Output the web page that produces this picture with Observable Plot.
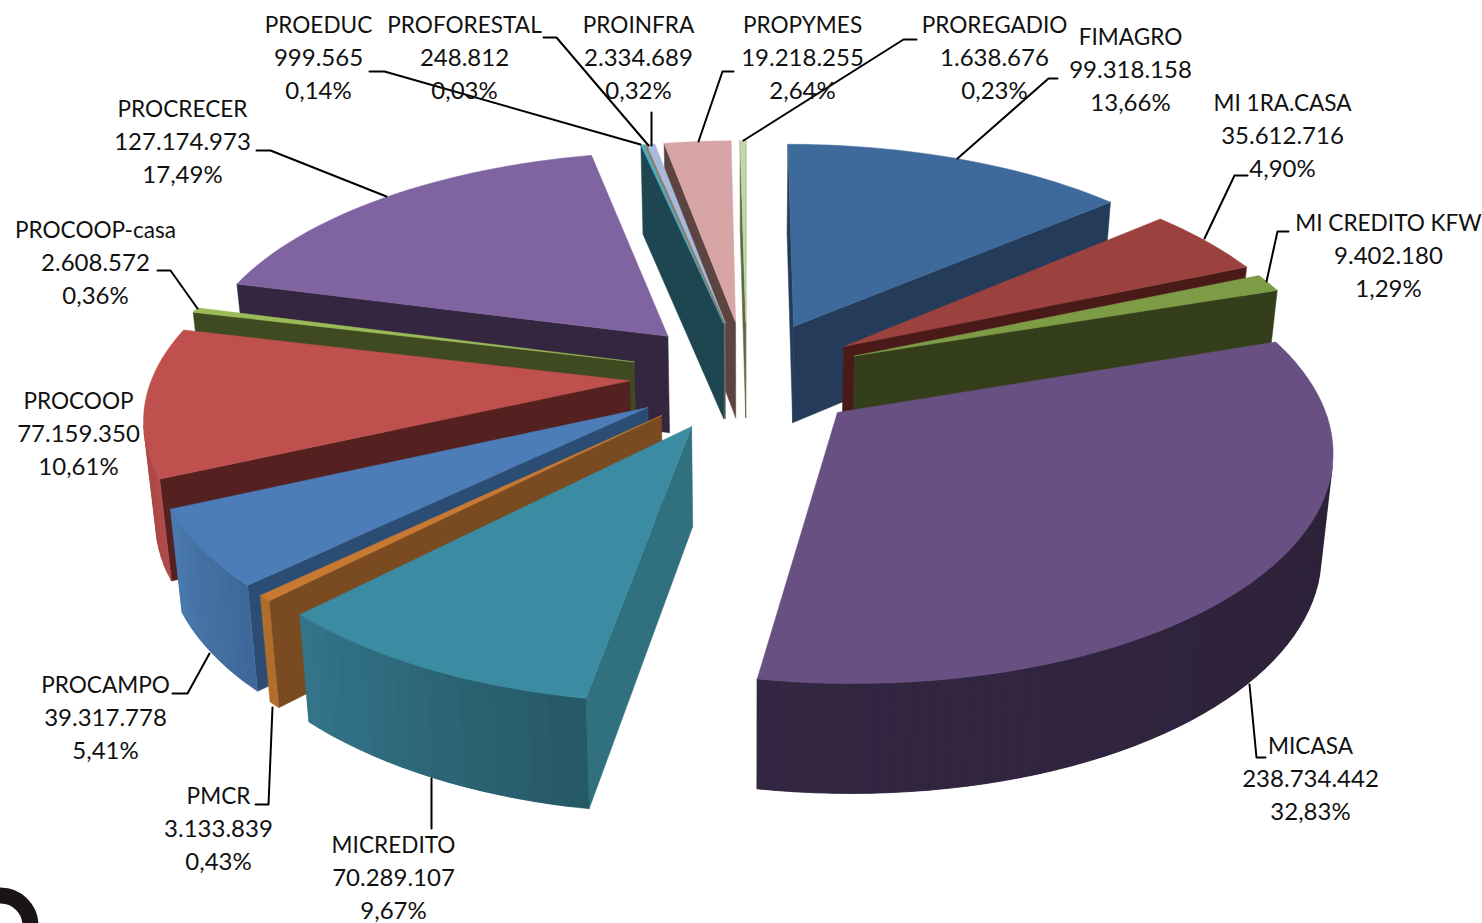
<!DOCTYPE html>
<html>
<head>
<meta charset="utf-8">
<script src="https://cdn.jsdelivr.net/npm/d3@7"></script>
<script src="https://cdn.jsdelivr.net/npm/@observablehq/plot@0.6"></script>
<style>html,body{margin:0;padding:0;background:#fff}svg{display:block}</style>
</head>
<body>
<div id="chart"></div>
<script>
// --- data, clockwise from 12 o'clock
const names = ["FIMAGRO","MI 1RA.CASA","MI CREDITO KFW","MICASA","MICREDITO","PMCR","PROCAMPO","PROCOOP","PROCOOP-casa","PROCRECER","PROEDUC","PROFORESTAL","PROINFRA","PROPYMES","PROREGADIO"];
const amounts = [99318158,35612716,9402180,238734442,70289107,3133839,39317778,77159350,2608572,127174973,999565,248812,2334689,19218255,1638676];
const amountLabels = ["99.318.158","35.612.716","9.402.180","238.734.442","70.289.107","3.133.839","39.317.778","77.159.350","2.608.572","127.174.973","999.565","248.812","2.334.689","19.218.255","1.638.676"];
const percentLabels = ["13,66%","4,90%","1,29%","32,83%","9,67%","0,43%","5,41%","10,61%","0,36%","17,49%","0,14%","0,03%","0,32%","2,64%","0,23%"];

// --- colours
const topColors  = ["#3e6a9b","#9b423f","#7d9c46","#695082","#3b8ca3","#c87a33","#4c7db8","#bf504d","#9bbb59","#8064a2","#4bacc6","#c97a30","#a8bbdc","#d7a5a5","#c3d6a5"];
const sideColors = ["#243c5a","#4a1a18","#343e1a","#2e2238","#31707f","#7a4a20","#2c4d73","#542120","#3f4a20","#352640","#1d4650","#7a4a20","#66728a","#5c4540","#5a6a40"];
const rimStart   = ["#2c4a6e","#6e2c2a","#5a7030","#2a2035","#265865","#b06e2c","#3d6798","#b04b49","#6e8a3a","#4a3a60","#2a6a7a","#a0602a","#7a88a0","#9a7070","#8a9a70"];
const rimEnd     = ["#2c4a6e","#6e2c2a","#5a7030","#332642","#33758a","#b06e2c","#4a7aae","#a04040","#6e8a3a","#4a3a60","#2a6a7a","#a0602a","#7a88a0","#9a7070","#8a9a70"];

// --- label layout: centre of each three-line label
const labelX = [1130,1282,1388,1310,393,218,105,78,95,182,318,464,638,802,994];
const labelY = [70,136,256,779,878,829,718,434,263,142,58,58,58,58,58];
const lineStep = 32.5;
// --- leader lines
const leaders = [
  [[1057,78],[1048,78],[957,158]],
  [[1247,175],[1234,175],[1204,238]],
  [[1288,231],[1277,231],[1266,281]],
  [[1265,757],[1256,757],[1249,684]],
  [[431,828],[431,778]],
  [[255,804],[268,804],[272,707]],
  [[172,693],[187,693],[209,653]],
  [],
  [[157,270],[170,270],[197,308]],
  [[256,150],[270,150],[386,196]],
  [[369,71],[384,71],[640,144]],
  [[543,37],[556,37],[648,145]],
  [[651,112],[651,145]],
  [[733,71],[722,71],[698,141]],
  [[916,39],[903,39],[743,140]]
];

// --- 3D pie projection
const view = {cx:746, cy:375, span:1557, A:477, k:0.142, ex:0.245, ez:0.251, depthA:38, depthB:60, taper:0.98};
const total = d3.sum(amounts);
function project(X, Z) {
  const s = 1 / (1 - view.k * Z);
  return {x: view.cx + view.A * X * s, y: view.cy + view.span * (s - 1), s};
}
function drop(p) {
  return {x: view.cx + (p.x - view.cx) * view.taper, y: p.y + view.depthA + view.depthB * p.s};
}
function shoelace(pts) {
  return d3.sum(pts, (p, i) => { const q = pts[(i + 1) % pts.length]; return p.x * q.y - q.x * p.y; });
}

const rows = [];
let faceId = 0;
function addFace(pts, color) {
  const id = faceId++;
  for (const p of [...pts, pts[0]]) rows.push({id, x: p.x, y: p.y, color});
}

let cum = 0;
const slices = amounts.map((v, i) => {
  const a0 = cum / total * 2 * Math.PI;
  cum += v;
  const a1 = cum / total * 2 * Math.PI;
  const mid = (a0 + a1) / 2;
  return {i, a0, a1, mid, z: -Math.cos(mid)};
});

for (const sl of slices.slice().sort((a, b) => a.z - b.z)) {
  const {i, a0, a1, mid} = sl;
  const tx = view.ex * Math.sin(mid), tz = -view.ez * Math.cos(mid);
  const tip = project(tx, tz);
  const n = Math.max(1, Math.ceil((a1 - a0) / (Math.PI / 90)));
  const arc = d3.range(n + 1).map(j => {
    const t = a0 + (a1 - a0) * j / n;
    return project(tx + Math.sin(t), tz - Math.cos(t));
  });
  const quad = (p, q) => [p, q, drop(q), drop(p)];
  const wall = (p, q, color) => { if (shoelace(quad(p, q)) < 0) addFace(quad(p, q), color); };
  wall(tip, arc[0], sideColors[i]);
  wall(arc[n], tip, sideColors[i]);
  const mix = d3.interpolateRgb(rimStart[i], rimEnd[i]);
  // each rim strip overlaps the next one, so no seam shows between them
  for (let j = 0; j < n; j++) {
    if (shoelace(quad(arc[j], arc[j + 1])) < 0) {
      const far = Math.min(n, j + 2);
      const strip = [...arc.slice(j, far + 1), ...arc.slice(j, far + 1).reverse().map(drop)];
      addFace(strip, mix((j + 0.5) / n));
    }
  }
  addFace([tip, ...arc], topColors[i]);
}

const leaderRows = leaders.flatMap((pts, i) => pts.map(([x, y]) => ({i, x, y})));
const labels = names.map((n, i) => ({
  x: labelX[i], y: labelY[i],
  name: n, amount: amountLabels[i], percent: percentLabels[i]
}));
const corner = [{x: 0, y: 925}];

const chart = Plot.plot({
  width: 1482, height: 923,
  margin: 0, marginTop: 0, marginRight: 0, marginBottom: 0, marginLeft: 0,
  x: {domain: [0, 1482], range: [0, 1482], axis: null},
  y: {domain: [0, 923], range: [0, 923], axis: null},
  color: {type: "identity"},
  style: {background: "#fff"},
  marks: [
    Plot.line(rows, {x: "x", y: "y", z: "id", fill: "color", stroke: "color", strokeWidth: 0.5}),
    Plot.line(leaderRows, {x: "x", y: "y", z: "i", stroke: "#000", strokeWidth: 2}),
    Plot.text(labels, {x: "x", y: "y", dy: -lineStep, text: "name", textAnchor: "middle", lineAnchor: "middle",
      fontFamily: "Lato", fontSize: 22.6, fill: "#111"}),
    Plot.text(labels, {x: "x", y: "y", text: "amount", textAnchor: "middle", lineAnchor: "middle",
      fontFamily: "Lato", fontSize: 24, fill: "#111"}),
    Plot.text(labels, {x: "x", y: "y", dy: lineStep, text: "percent", textAnchor: "middle", lineAnchor: "middle",
      fontFamily: "Lato", fontSize: 24, fill: "#111"}),
    Plot.dot(corner, {x: "x", y: "y", r: 30, stroke: "#1a1414", strokeWidth: 16, fill: "none"})
  ]
});
document.getElementById("chart").append(chart);
</script>
</body>
</html>
